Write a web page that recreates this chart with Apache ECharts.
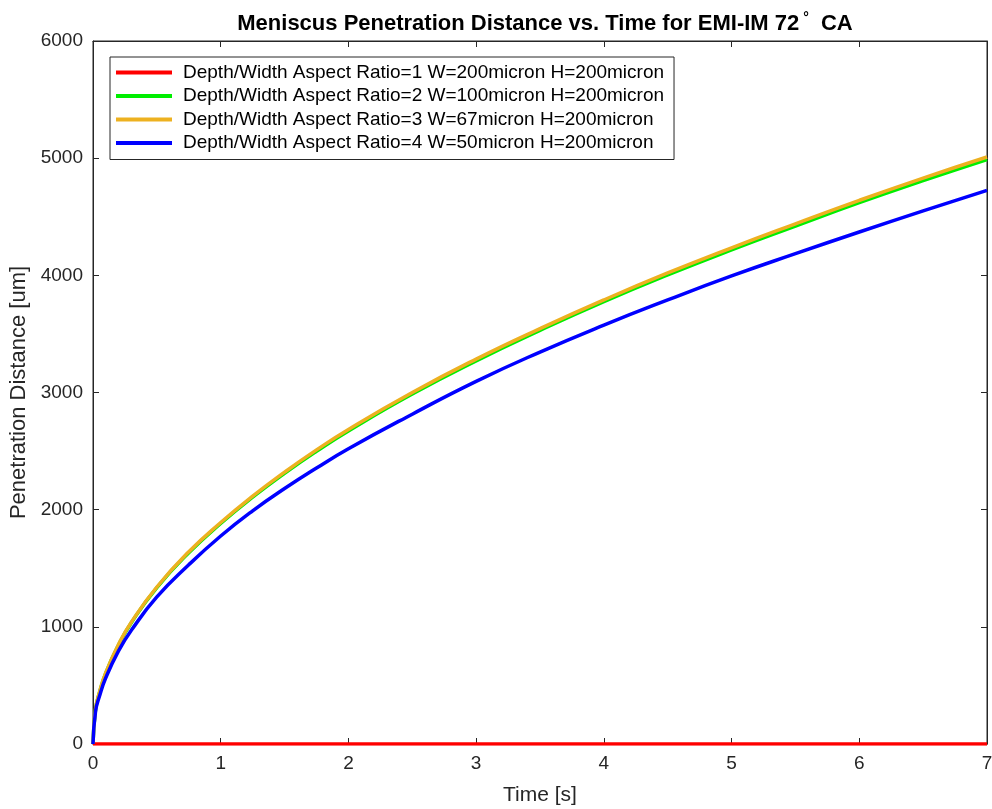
<!DOCTYPE html>
<html>
<head>
<meta charset="utf-8">
<title>Meniscus Penetration Distance</title>
<script src="https://cdn.jsdelivr.net/npm/echarts@6/dist/echarts.min.js"></script>
<style>
    html, body { margin: 0; padding: 0; background: #fff; }
    #chart { width: 992px; height: 809px; }
</style>
</head>
<body>
<div id="chart"></div>
<script>
    // time samples [s]
    const times = [0, 0.02, 0.05, 0.1, 0.2, 0.3, 0.5, 0.75, 1, 1.25, 1.5, 1.75, 2, 2.5, 3, 3.5, 4, 4.5, 5, 5.5, 6, 6.5, 7]
    // penetration distance [um]
    const ratio1 = [0, 0, 0, 0, 0, 0, 0, 0, 0, 0, 0, 0, 0, 0, 0, 0, 0, 0, 0, 0, 0, 0, 0]
    const ratio2 = [0, 295, 435, 605, 845, 1035, 1335, 1632, 1882, 2106, 2310, 2498, 2672, 2987, 3270, 3530, 3775, 4003, 4217, 4420, 4620, 4808, 4988]
    const ratio3 = [0, 300, 440, 610, 850, 1040, 1340, 1640, 1890, 2115, 2320, 2510, 2685, 3000, 3285, 3545, 3790, 4020, 4235, 4440, 4640, 4830, 5010]
    const ratio4 = [0, 280, 405, 565, 795, 970, 1255, 1530, 1775, 1990, 2180, 2355, 2520, 2815, 3095, 3345, 3575, 3790, 3995, 4185, 4370, 4550, 4725]

    const names = [
        'Depth/Width Aspect Ratio=1 W=200micron H=200micron',
        'Depth/Width Aspect Ratio=2 W=100micron H=200micron',
        'Depth/Width Aspect Ratio=3 W=67micron H=200micron',
        'Depth/Width Aspect Ratio=4 W=50micron H=200micron'
    ]
    const colors = ['#ff0000', '#00ee00', '#EDB120', '#0000ff']
    const values = [ratio1, ratio2, ratio3, ratio4]

    const font = 'Liberation Sans, Arial, Helvetica, sans-serif'
    const axisColor = '#262626'

    function pairs(ys) {
        return times.map(function(t, i) { return [t, ys[i]] })
    }

    const chart = echarts.init(document.getElementById('chart'))

    const tickStyle = { show: true, inside: true, length: 6, lineStyle: { color: axisColor } }

    const option = {
        animation: false,
        backgroundColor: '#fff',
        title: {
            text: 'Meniscus Penetration Distance vs. Time for EMI-IM 72{s|°} CA',
            left: 540,
            textAlign: 'center',
            top: 6,
            textStyle: {
                fontFamily: font,
                fontSize: 22,
                fontWeight: 'bold',
                color: '#000',
                rich: {
                    s: {
                        fontFamily: font,
                        fontSize: 14,
                        fontWeight: 'bold',
                        color: '#000',
                        verticalAlign: 'top',
                        padding: [0, 6, 12, 4]
                    }
                }
            }
        },
        legend: {
            orient: 'vertical',
            left: 110,
            top: 57,
            padding: [6, 10, 7, 6],
            itemGap: 4.5,
            itemWidth: 56,
            itemHeight: 4,
            icon: 'rect',
            borderColor: '#262626',
            borderWidth: 1,
            backgroundColor: '#fff',
            textStyle: {
                fontFamily: font,
                fontSize: 19,
                color: '#000',
                lineHeight: 19,
                padding: [0, 0, 0, 6]
            },
            data: names
        },
        grid: {
            left: 93,
            right: 5,
            top: 41,
            bottom: 65,
            outerBoundsMode: 'none',
            containLabel: false,
            show: true,
            borderColor: axisColor,
            borderWidth: 1
        },
        xAxis: [
            {
                type: 'value',
                position: 'bottom',
                min: 0,
                max: 7,
                interval: 1,
                name: 'Time [s]',
                nameLocation: 'middle',
                nameGap: 41,
                nameTextStyle: { fontFamily: font, fontSize: 21, color: axisColor },
                axisLine: { onZero: false, lineStyle: { color: axisColor } },
                axisTick: tickStyle,
                axisLabel: { fontFamily: font, fontSize: 19, color: axisColor, margin: 10 },
                splitLine: { show: false }
            },
            {
                type: 'value',
                position: 'top',
                min: 0,
                max: 7,
                interval: 1,
                axisLine: { show: true, onZero: false, lineStyle: { color: axisColor } },
                axisTick: tickStyle,
                axisLabel: { show: false },
                splitLine: { show: false }
            }
        ],
        yAxis: [
            {
                type: 'value',
                position: 'left',
                min: 0,
                max: 6000,
                interval: 1000,
                name: 'Penetration Distance [um]',
                nameLocation: 'middle',
                nameGap: 62,
                nameTextStyle: { fontFamily: font, fontSize: 22, color: axisColor },
                axisLine: { show: true, onZero: false, lineStyle: { color: axisColor } },
                axisTick: tickStyle,
                axisLabel: {
                    fontFamily: font,
                    fontSize: 19,
                    color: axisColor,
                    margin: 10,
                    formatter: function(v) { return String(v) }
                },
                splitLine: { show: false }
            },
            {
                type: 'value',
                position: 'right',
                min: 0,
                max: 6000,
                interval: 1000,
                axisLine: { show: true, onZero: false, lineStyle: { color: axisColor } },
                axisTick: tickStyle,
                axisLabel: { show: false },
                splitLine: { show: false }
            }
        ],
        series: values.map(function(v, i) {
            return {
                name: names[i],
                type: 'line',
                data: pairs(v),
                showSymbol: false,
                smooth: 0.5,
                z: 2 + i,
                lineStyle: { color: colors[i], width: 3.5 },
                itemStyle: { color: colors[i] }
            }
        })
    }

    option && chart.setOption(option)
</script>
</body>
</html>
